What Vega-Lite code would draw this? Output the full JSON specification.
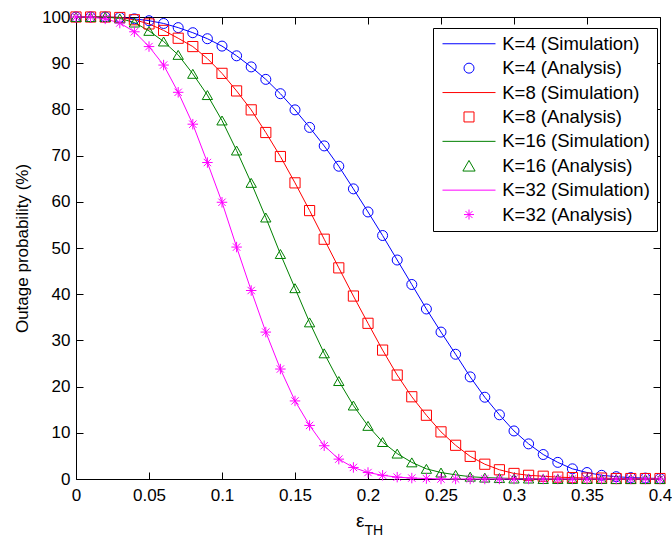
{
  "$schema": "https://vega.github.io/schema/vega-lite/v6.json",
  "width": 584,
  "height": 462,
  "autosize": {"type": "none"},
  "padding": {"left": 76, "top": 17, "right": 12, "bottom": 60},
  "background": "white",
  "datasets": {
    "curves": [
      {"x":0,"y":100,"s":"K=4 (Simulation)","a":"K=4 (Analysis)"},
      {"x":0.01,"y":100,"s":"K=4 (Simulation)","a":"K=4 (Analysis)"},
      {"x":0.02,"y":100,"s":"K=4 (Simulation)","a":"K=4 (Analysis)"},
      {"x":0.03,"y":99.9,"s":"K=4 (Simulation)","a":"K=4 (Analysis)"},
      {"x":0.04,"y":99.6,"s":"K=4 (Simulation)","a":"K=4 (Analysis)"},
      {"x":0.05,"y":99.2,"s":"K=4 (Simulation)","a":"K=4 (Analysis)"},
      {"x":0.06,"y":98.6,"s":"K=4 (Simulation)","a":"K=4 (Analysis)"},
      {"x":0.07,"y":97.7,"s":"K=4 (Simulation)","a":"K=4 (Analysis)"},
      {"x":0.08,"y":96.6,"s":"K=4 (Simulation)","a":"K=4 (Analysis)"},
      {"x":0.09,"y":95.3,"s":"K=4 (Simulation)","a":"K=4 (Analysis)"},
      {"x":0.1,"y":93.7,"s":"K=4 (Simulation)","a":"K=4 (Analysis)"},
      {"x":0.11,"y":91.6,"s":"K=4 (Simulation)","a":"K=4 (Analysis)"},
      {"x":0.12,"y":89.2,"s":"K=4 (Simulation)","a":"K=4 (Analysis)"},
      {"x":0.13,"y":86.5,"s":"K=4 (Simulation)","a":"K=4 (Analysis)"},
      {"x":0.14,"y":83.4,"s":"K=4 (Simulation)","a":"K=4 (Analysis)"},
      {"x":0.15,"y":79.9,"s":"K=4 (Simulation)","a":"K=4 (Analysis)"},
      {"x":0.16,"y":76.1,"s":"K=4 (Simulation)","a":"K=4 (Analysis)"},
      {"x":0.17,"y":72.1,"s":"K=4 (Simulation)","a":"K=4 (Analysis)"},
      {"x":0.18,"y":67.7,"s":"K=4 (Simulation)","a":"K=4 (Analysis)"},
      {"x":0.19,"y":62.8,"s":"K=4 (Simulation)","a":"K=4 (Analysis)"},
      {"x":0.2,"y":57.8,"s":"K=4 (Simulation)","a":"K=4 (Analysis)"},
      {"x":0.21,"y":52.7,"s":"K=4 (Simulation)","a":"K=4 (Analysis)"},
      {"x":0.22,"y":47.4,"s":"K=4 (Simulation)","a":"K=4 (Analysis)"},
      {"x":0.23,"y":42.1,"s":"K=4 (Simulation)","a":"K=4 (Analysis)"},
      {"x":0.24,"y":36.8,"s":"K=4 (Simulation)","a":"K=4 (Analysis)"},
      {"x":0.25,"y":31.8,"s":"K=4 (Simulation)","a":"K=4 (Analysis)"},
      {"x":0.26,"y":27.0,"s":"K=4 (Simulation)","a":"K=4 (Analysis)"},
      {"x":0.27,"y":22.1,"s":"K=4 (Simulation)","a":"K=4 (Analysis)"},
      {"x":0.28,"y":17.7,"s":"K=4 (Simulation)","a":"K=4 (Analysis)"},
      {"x":0.29,"y":13.9,"s":"K=4 (Simulation)","a":"K=4 (Analysis)"},
      {"x":0.3,"y":10.4,"s":"K=4 (Simulation)","a":"K=4 (Analysis)"},
      {"x":0.31,"y":7.6,"s":"K=4 (Simulation)","a":"K=4 (Analysis)"},
      {"x":0.32,"y":5.3,"s":"K=4 (Simulation)","a":"K=4 (Analysis)"},
      {"x":0.33,"y":3.6,"s":"K=4 (Simulation)","a":"K=4 (Analysis)"},
      {"x":0.34,"y":2.2,"s":"K=4 (Simulation)","a":"K=4 (Analysis)"},
      {"x":0.35,"y":1.4,"s":"K=4 (Simulation)","a":"K=4 (Analysis)"},
      {"x":0.36,"y":0.8,"s":"K=4 (Simulation)","a":"K=4 (Analysis)"},
      {"x":0.37,"y":0.5,"s":"K=4 (Simulation)","a":"K=4 (Analysis)"},
      {"x":0.38,"y":0.3,"s":"K=4 (Simulation)","a":"K=4 (Analysis)"},
      {"x":0.39,"y":0.2,"s":"K=4 (Simulation)","a":"K=4 (Analysis)"},
      {"x":0.4,"y":0.1,"s":"K=4 (Simulation)","a":"K=4 (Analysis)"},
      {"x":0,"y":100,"s":"K=8 (Simulation)","a":"K=8 (Analysis)"},
      {"x":0.01,"y":100,"s":"K=8 (Simulation)","a":"K=8 (Analysis)"},
      {"x":0.02,"y":100,"s":"K=8 (Simulation)","a":"K=8 (Analysis)"},
      {"x":0.03,"y":99.9,"s":"K=8 (Simulation)","a":"K=8 (Analysis)"},
      {"x":0.04,"y":99.4,"s":"K=8 (Simulation)","a":"K=8 (Analysis)"},
      {"x":0.05,"y":98.5,"s":"K=8 (Simulation)","a":"K=8 (Analysis)"},
      {"x":0.06,"y":97.1,"s":"K=8 (Simulation)","a":"K=8 (Analysis)"},
      {"x":0.07,"y":95.4,"s":"K=8 (Simulation)","a":"K=8 (Analysis)"},
      {"x":0.08,"y":93.6,"s":"K=8 (Simulation)","a":"K=8 (Analysis)"},
      {"x":0.09,"y":91.0,"s":"K=8 (Simulation)","a":"K=8 (Analysis)"},
      {"x":0.1,"y":87.8,"s":"K=8 (Simulation)","a":"K=8 (Analysis)"},
      {"x":0.11,"y":84.0,"s":"K=8 (Simulation)","a":"K=8 (Analysis)"},
      {"x":0.12,"y":79.9,"s":"K=8 (Simulation)","a":"K=8 (Analysis)"},
      {"x":0.13,"y":75.0,"s":"K=8 (Simulation)","a":"K=8 (Analysis)"},
      {"x":0.14,"y":69.8,"s":"K=8 (Simulation)","a":"K=8 (Analysis)"},
      {"x":0.15,"y":64.1,"s":"K=8 (Simulation)","a":"K=8 (Analysis)"},
      {"x":0.16,"y":58.1,"s":"K=8 (Simulation)","a":"K=8 (Analysis)"},
      {"x":0.17,"y":51.9,"s":"K=8 (Simulation)","a":"K=8 (Analysis)"},
      {"x":0.18,"y":45.7,"s":"K=8 (Simulation)","a":"K=8 (Analysis)"},
      {"x":0.19,"y":39.6,"s":"K=8 (Simulation)","a":"K=8 (Analysis)"},
      {"x":0.2,"y":33.7,"s":"K=8 (Simulation)","a":"K=8 (Analysis)"},
      {"x":0.21,"y":27.9,"s":"K=8 (Simulation)","a":"K=8 (Analysis)"},
      {"x":0.22,"y":22.5,"s":"K=8 (Simulation)","a":"K=8 (Analysis)"},
      {"x":0.23,"y":17.8,"s":"K=8 (Simulation)","a":"K=8 (Analysis)"},
      {"x":0.24,"y":13.8,"s":"K=8 (Simulation)","a":"K=8 (Analysis)"},
      {"x":0.25,"y":10.2,"s":"K=8 (Simulation)","a":"K=8 (Analysis)"},
      {"x":0.26,"y":7.3,"s":"K=8 (Simulation)","a":"K=8 (Analysis)"},
      {"x":0.27,"y":4.9,"s":"K=8 (Simulation)","a":"K=8 (Analysis)"},
      {"x":0.28,"y":3.2,"s":"K=8 (Simulation)","a":"K=8 (Analysis)"},
      {"x":0.29,"y":2.0,"s":"K=8 (Simulation)","a":"K=8 (Analysis)"},
      {"x":0.3,"y":1.2,"s":"K=8 (Simulation)","a":"K=8 (Analysis)"},
      {"x":0.31,"y":0.8,"s":"K=8 (Simulation)","a":"K=8 (Analysis)"},
      {"x":0.32,"y":0.6,"s":"K=8 (Simulation)","a":"K=8 (Analysis)"},
      {"x":0.33,"y":0.4,"s":"K=8 (Simulation)","a":"K=8 (Analysis)"},
      {"x":0.34,"y":0.3,"s":"K=8 (Simulation)","a":"K=8 (Analysis)"},
      {"x":0.35,"y":0.2,"s":"K=8 (Simulation)","a":"K=8 (Analysis)"},
      {"x":0.36,"y":0.2,"s":"K=8 (Simulation)","a":"K=8 (Analysis)"},
      {"x":0.37,"y":0.1,"s":"K=8 (Simulation)","a":"K=8 (Analysis)"},
      {"x":0.38,"y":0.1,"s":"K=8 (Simulation)","a":"K=8 (Analysis)"},
      {"x":0.39,"y":0.1,"s":"K=8 (Simulation)","a":"K=8 (Analysis)"},
      {"x":0.4,"y":0.1,"s":"K=8 (Simulation)","a":"K=8 (Analysis)"},
      {"x":0,"y":100,"s":"K=16 (Simulation)","a":"K=16 (Analysis)"},
      {"x":0.01,"y":100,"s":"K=16 (Simulation)","a":"K=16 (Analysis)"},
      {"x":0.02,"y":100,"s":"K=16 (Simulation)","a":"K=16 (Analysis)"},
      {"x":0.03,"y":99.7,"s":"K=16 (Simulation)","a":"K=16 (Analysis)"},
      {"x":0.04,"y":98.8,"s":"K=16 (Simulation)","a":"K=16 (Analysis)"},
      {"x":0.05,"y":97.0,"s":"K=16 (Simulation)","a":"K=16 (Analysis)"},
      {"x":0.06,"y":94.7,"s":"K=16 (Simulation)","a":"K=16 (Analysis)"},
      {"x":0.07,"y":91.8,"s":"K=16 (Simulation)","a":"K=16 (Analysis)"},
      {"x":0.08,"y":87.7,"s":"K=16 (Simulation)","a":"K=16 (Analysis)"},
      {"x":0.09,"y":83.1,"s":"K=16 (Simulation)","a":"K=16 (Analysis)"},
      {"x":0.1,"y":77.6,"s":"K=16 (Simulation)","a":"K=16 (Analysis)"},
      {"x":0.11,"y":71.1,"s":"K=16 (Simulation)","a":"K=16 (Analysis)"},
      {"x":0.12,"y":64.1,"s":"K=16 (Simulation)","a":"K=16 (Analysis)"},
      {"x":0.13,"y":56.6,"s":"K=16 (Simulation)","a":"K=16 (Analysis)"},
      {"x":0.14,"y":48.7,"s":"K=16 (Simulation)","a":"K=16 (Analysis)"},
      {"x":0.15,"y":41.3,"s":"K=16 (Simulation)","a":"K=16 (Analysis)"},
      {"x":0.16,"y":33.9,"s":"K=16 (Simulation)","a":"K=16 (Analysis)"},
      {"x":0.17,"y":27.2,"s":"K=16 (Simulation)","a":"K=16 (Analysis)"},
      {"x":0.18,"y":21.2,"s":"K=16 (Simulation)","a":"K=16 (Analysis)"},
      {"x":0.19,"y":15.9,"s":"K=16 (Simulation)","a":"K=16 (Analysis)"},
      {"x":0.2,"y":11.5,"s":"K=16 (Simulation)","a":"K=16 (Analysis)"},
      {"x":0.21,"y":8.0,"s":"K=16 (Simulation)","a":"K=16 (Analysis)"},
      {"x":0.22,"y":5.5,"s":"K=16 (Simulation)","a":"K=16 (Analysis)"},
      {"x":0.23,"y":3.6,"s":"K=16 (Simulation)","a":"K=16 (Analysis)"},
      {"x":0.24,"y":2.2,"s":"K=16 (Simulation)","a":"K=16 (Analysis)"},
      {"x":0.25,"y":1.4,"s":"K=16 (Simulation)","a":"K=16 (Analysis)"},
      {"x":0.26,"y":0.9,"s":"K=16 (Simulation)","a":"K=16 (Analysis)"},
      {"x":0.27,"y":0.5,"s":"K=16 (Simulation)","a":"K=16 (Analysis)"},
      {"x":0.28,"y":0.3,"s":"K=16 (Simulation)","a":"K=16 (Analysis)"},
      {"x":0.29,"y":0.2,"s":"K=16 (Simulation)","a":"K=16 (Analysis)"},
      {"x":0.3,"y":0.1,"s":"K=16 (Simulation)","a":"K=16 (Analysis)"},
      {"x":0.31,"y":0.1,"s":"K=16 (Simulation)","a":"K=16 (Analysis)"},
      {"x":0.32,"y":0,"s":"K=16 (Simulation)","a":"K=16 (Analysis)"},
      {"x":0.33,"y":0,"s":"K=16 (Simulation)","a":"K=16 (Analysis)"},
      {"x":0.34,"y":0,"s":"K=16 (Simulation)","a":"K=16 (Analysis)"},
      {"x":0.35,"y":0,"s":"K=16 (Simulation)","a":"K=16 (Analysis)"},
      {"x":0.36,"y":0,"s":"K=16 (Simulation)","a":"K=16 (Analysis)"},
      {"x":0.37,"y":0,"s":"K=16 (Simulation)","a":"K=16 (Analysis)"},
      {"x":0.38,"y":0,"s":"K=16 (Simulation)","a":"K=16 (Analysis)"},
      {"x":0.39,"y":0,"s":"K=16 (Simulation)","a":"K=16 (Analysis)"},
      {"x":0.4,"y":0,"s":"K=16 (Simulation)","a":"K=16 (Analysis)"},
      {"x":0,"y":100,"s":"K=32 (Simulation)","a":"K=32 (Analysis)"},
      {"x":0.01,"y":100,"s":"K=32 (Simulation)","a":"K=32 (Analysis)"},
      {"x":0.02,"y":99.6,"s":"K=32 (Simulation)","a":"K=32 (Analysis)"},
      {"x":0.03,"y":98.7,"s":"K=32 (Simulation)","a":"K=32 (Analysis)"},
      {"x":0.04,"y":96.8,"s":"K=32 (Simulation)","a":"K=32 (Analysis)"},
      {"x":0.05,"y":93.6,"s":"K=32 (Simulation)","a":"K=32 (Analysis)"},
      {"x":0.06,"y":89.6,"s":"K=32 (Simulation)","a":"K=32 (Analysis)"},
      {"x":0.07,"y":83.7,"s":"K=32 (Simulation)","a":"K=32 (Analysis)"},
      {"x":0.08,"y":76.8,"s":"K=32 (Simulation)","a":"K=32 (Analysis)"},
      {"x":0.09,"y":68.5,"s":"K=32 (Simulation)","a":"K=32 (Analysis)"},
      {"x":0.1,"y":59.9,"s":"K=32 (Simulation)","a":"K=32 (Analysis)"},
      {"x":0.11,"y":50.2,"s":"K=32 (Simulation)","a":"K=32 (Analysis)"},
      {"x":0.12,"y":40.8,"s":"K=32 (Simulation)","a":"K=32 (Analysis)"},
      {"x":0.13,"y":31.8,"s":"K=32 (Simulation)","a":"K=32 (Analysis)"},
      {"x":0.14,"y":23.8,"s":"K=32 (Simulation)","a":"K=32 (Analysis)"},
      {"x":0.15,"y":16.9,"s":"K=32 (Simulation)","a":"K=32 (Analysis)"},
      {"x":0.16,"y":11.6,"s":"K=32 (Simulation)","a":"K=32 (Analysis)"},
      {"x":0.17,"y":7.2,"s":"K=32 (Simulation)","a":"K=32 (Analysis)"},
      {"x":0.18,"y":4.3,"s":"K=32 (Simulation)","a":"K=32 (Analysis)"},
      {"x":0.19,"y":2.5,"s":"K=32 (Simulation)","a":"K=32 (Analysis)"},
      {"x":0.2,"y":1.4,"s":"K=32 (Simulation)","a":"K=32 (Analysis)"},
      {"x":0.21,"y":0.8,"s":"K=32 (Simulation)","a":"K=32 (Analysis)"},
      {"x":0.22,"y":0.4,"s":"K=32 (Simulation)","a":"K=32 (Analysis)"},
      {"x":0.23,"y":0.2,"s":"K=32 (Simulation)","a":"K=32 (Analysis)"},
      {"x":0.24,"y":0.1,"s":"K=32 (Simulation)","a":"K=32 (Analysis)"},
      {"x":0.25,"y":0,"s":"K=32 (Simulation)","a":"K=32 (Analysis)"},
      {"x":0.26,"y":0,"s":"K=32 (Simulation)","a":"K=32 (Analysis)"},
      {"x":0.27,"y":0,"s":"K=32 (Simulation)","a":"K=32 (Analysis)"},
      {"x":0.28,"y":0,"s":"K=32 (Simulation)","a":"K=32 (Analysis)"},
      {"x":0.29,"y":0,"s":"K=32 (Simulation)","a":"K=32 (Analysis)"},
      {"x":0.3,"y":0,"s":"K=32 (Simulation)","a":"K=32 (Analysis)"},
      {"x":0.31,"y":0,"s":"K=32 (Simulation)","a":"K=32 (Analysis)"},
      {"x":0.32,"y":0,"s":"K=32 (Simulation)","a":"K=32 (Analysis)"},
      {"x":0.33,"y":0,"s":"K=32 (Simulation)","a":"K=32 (Analysis)"},
      {"x":0.34,"y":0,"s":"K=32 (Simulation)","a":"K=32 (Analysis)"},
      {"x":0.35,"y":0,"s":"K=32 (Simulation)","a":"K=32 (Analysis)"},
      {"x":0.36,"y":0,"s":"K=32 (Simulation)","a":"K=32 (Analysis)"},
      {"x":0.37,"y":0,"s":"K=32 (Simulation)","a":"K=32 (Analysis)"},
      {"x":0.38,"y":0,"s":"K=32 (Simulation)","a":"K=32 (Analysis)"},
      {"x":0.39,"y":0,"s":"K=32 (Simulation)","a":"K=32 (Analysis)"},
      {"x":0.4,"y":0,"s":"K=32 (Simulation)","a":"K=32 (Analysis)"}
    ]
  },
  "data": {"name": "curves"},
  "resolve": {"axis": {"x": "independent", "y": "independent"}},
  "layer": [
    {
      "mark": {"type": "line", "strokeWidth": 1, "clip": false},
      "encoding": {
        "x": {
          "field": "x", "type": "quantitative",
          "scale": {"domain": [0, 0.4], "nice": false, "zero": false},
          "axis": {
            "orient": "bottom",
            "values": [0, 0.05, 0.1, 0.15, 0.2, 0.25, 0.3, 0.35, 0.4],
            "format": "~g",
            "title": "ε",
            "titleFontSize": 19,
            "titleX": 288,
            "titleY": 47,
            "titleAlign": "right",
            "titleBaseline": "alphabetic",
            "labelPadding": 15,
            "labelBaseline": "top"
          }
        },
        "y": {
          "field": "y", "type": "quantitative",
          "scale": {"domain": [0, 100], "nice": false},
          "axis": {
            "orient": "left",
            "values": [0, 10, 20, 30, 40, 50, 60, 70, 80, 90, 100],
            "title": "Outage probability (%)",
            "titleFontSize": 17,
            "titleAngle": -90,
            "titleX": -49,
            "titleY": 231,
            "titleAlign": "center",
            "titleBaseline": "alphabetic",
            "labelPadding": 13
          }
        },
        "color": {
          "field": "s", "type": "nominal",
          "scale": {
            "domain": ["K=4 (Simulation)", "K=4 (Analysis)", "K=8 (Simulation)", "K=8 (Analysis)", "K=16 (Simulation)", "K=16 (Analysis)", "K=32 (Simulation)", "K=32 (Analysis)"],
            "range": ["#0000ff", "#0000ff", "#ff0000", "#ff0000", "#008000", "#008000", "#ff00ff", "#ff00ff"]
          },
          "legend": {
            "title": null,
            "orient": "none",
            "direction": "vertical",
            "legendX": 357,
            "legendY": 11,
            "encode": {"symbols": {"update": {"size": {"signal": "test(/Simulation/, datum.value) ? 2809 : test(/16/, datum.value) ? 150 : 100"}}}}
          }
        }
      }
    },
    {
      "mark": {"type": "point", "filled": false, "strokeWidth": 1, "opacity": 1, "clip": false},
      "encoding": {
        "x": {
          "field": "x", "type": "quantitative",
          "axis": {
            "orient": "top",
            "values": [0, 0.05, 0.1, 0.15, 0.2, 0.25, 0.3, 0.35, 0.4],
            "labels": false,
            "title": "TH",
            "titleFontSize": 14,
            "titleX": 288,
            "titleY": 517,
            "titleAlign": "left",
            "titleBaseline": "alphabetic"
          }
        },
        "y": {
          "field": "y", "type": "quantitative",
          "axis": {
            "orient": "right",
            "values": [0, 10, 20, 30, 40, 50, 60, 70, 80, 90, 100],
            "labels": false,
            "title": null
          }
        },
        "color": {
          "field": "a", "type": "nominal",
          "legend": {
            "title": null,
            "orient": "none",
            "direction": "vertical",
            "legendX": 357,
            "legendY": 11,
            "encode": {"symbols": {"update": {"size": {"signal": "test(/Simulation/, datum.value) ? 2809 : test(/16/, datum.value) ? 150 : 100"}}}}
          }
        },
        "shape": {
          "field": "a", "type": "nominal",
          "scale": {
            "domain": ["K=4 (Simulation)", "K=4 (Analysis)", "K=8 (Simulation)", "K=8 (Analysis)", "K=16 (Simulation)", "K=16 (Analysis)", "K=32 (Simulation)", "K=32 (Analysis)"],
            "range": ["stroke", "circle", "stroke", "square", "stroke", "triangle-up", "stroke", "M-1,0L1,0M0,-1L0,1M-0.7,-0.7L0.7,0.7M-0.7,0.7L0.7,-0.7"]
          },
          "legend": {
            "title": null,
            "orient": "none",
            "direction": "vertical",
            "legendX": 357,
            "legendY": 11,
            "encode": {"symbols": {"update": {"size": {"signal": "test(/Simulation/, datum.value) ? 2809 : test(/16/, datum.value) ? 150 : 100"}}}}
          }
        },
        "size": {
          "field": "a", "type": "nominal",
          "scale": {
            "domain": ["K=4 (Analysis)", "K=8 (Analysis)", "K=16 (Analysis)", "K=32 (Analysis)"],
            "range": [100, 110, 210, 130]
          },
          "legend": null
        }
      }
    }
  ],
  "config": {
    "font": "Liberation Sans",
    "view": {"stroke": null},
    "axis": {
      "grid": false,
      "domainColor": "#000000",
      "domainWidth": 1,
      "tickColor": "#000000",
      "tickWidth": 1,
      "tickSize": -7,
      "labelColor": "#000000",
      "labelFont": "Liberation Sans",
      "labelFontSize": 17,
      "titleColor": "#000000",
      "titleFont": "Liberation Sans",
      "titleFontWeight": "normal",
      "labelFlush": false,
      "labelOverlap": false
    },
    "legend": {
      "padding": 6.5,
      "rowPadding": 5.4,
      "labelFont": "Liberation Sans",
      "labelFontSize": 18.5,
      "labelColor": "#000000",
      "symbolSize": 90,
      "symbolStrokeWidth": 1,
      "symbolOffset": 20.25,
      "labelOffset": 24,
      "strokeColor": "#000000",
      "fillColor": "#ffffff",
      "cornerRadius": 0,
      "labelLimit": 300
    }
  }
}
